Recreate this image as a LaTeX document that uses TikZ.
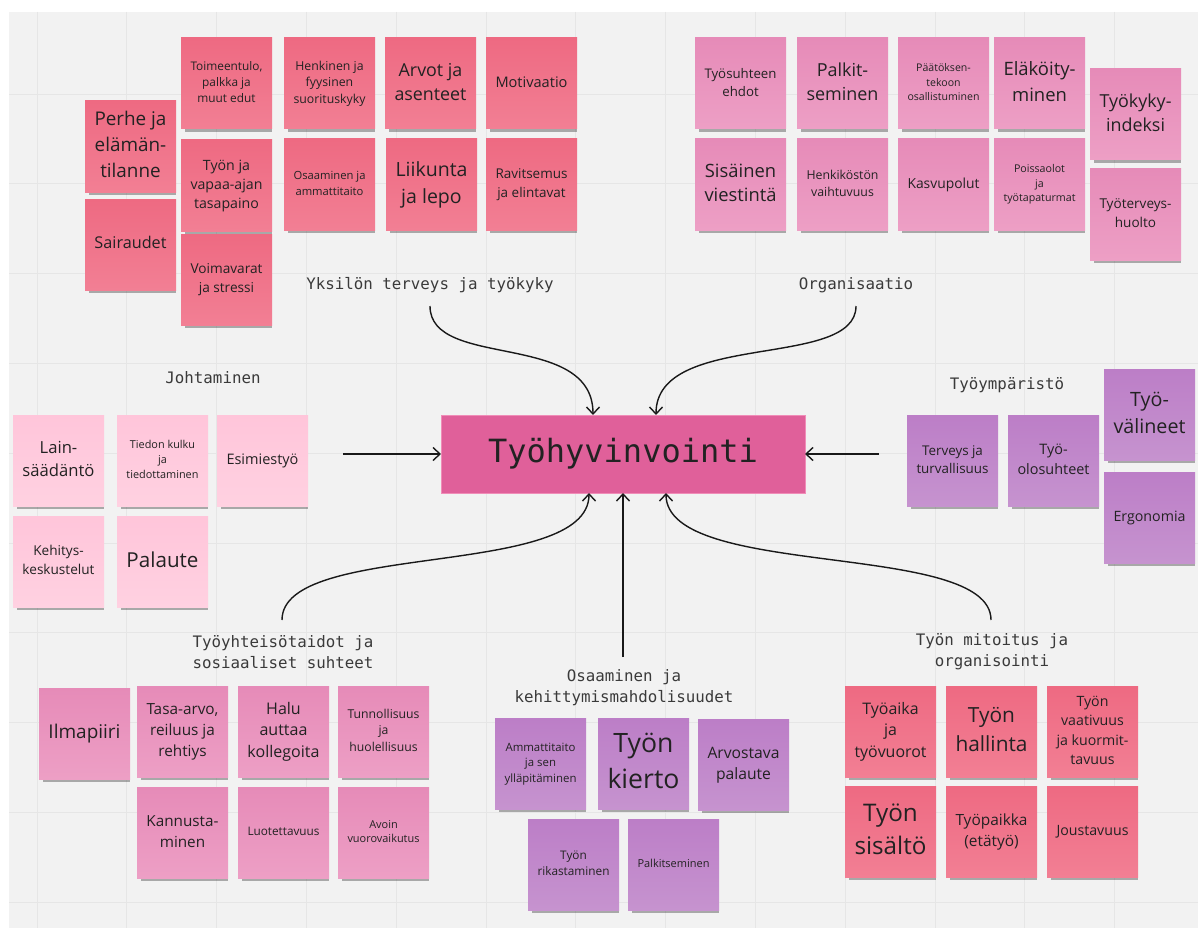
\documentclass[tikz,border=0pt]{standalone}
\usepackage{fontspec}
\setmainfont{Open Sans}
\newfontfamily\monofont{DejaVu Sans Mono}
\usepackage{graphicx}
\usetikzlibrary{arrows.meta,shadows}

\definecolor{bg}{HTML}{F2F2F2}
\definecolor{gridc}{HTML}{E6E6E6}
\definecolor{txt}{HTML}{222222}
\definecolor{lblc}{HTML}{3A3A3A}
\definecolor{redA}{HTML}{EE6A82}
\definecolor{redB}{HTML}{F27F94}
\definecolor{pinkA}{HTML}{E68BB8}
\definecolor{pinkB}{HTML}{ED9FC5}
\definecolor{lightA}{HTML}{FFC5DA}
\definecolor{lightB}{HTML}{FFD1E1}
\definecolor{purA}{HTML}{BC7EC7}
\definecolor{purB}{HTML}{C693CF}
\definecolor{hubc}{HTML}{E0609A}
\definecolor{hubb}{HTML}{F08DB8}

\newcommand{\nt}[1]{\resizebox{72pt}{!}{\fontsize{10}{13.6}\selectfont\begin{tabular}{@{}c@{}}#1\end{tabular}}}

\tikzset{
  sticky/.style={minimum width=91pt, minimum height=91pt, anchor=north west,
    inner sep=0pt, outer sep=0pt, text=txt,
    drop shadow={opacity=0.3, shadow scale=0.95, shadow xshift=2pt, shadow yshift=-6pt, fill=black}},
  redn/.style={sticky, top color=redA, bottom color=redB},
  pinkn/.style={sticky, top color=pinkA, bottom color=pinkB},
  lightn/.style={sticky, top color=lightA, bottom color=lightB},
  purn/.style={sticky, top color=purA, bottom color=purB},
  lbl/.style={font=\monofont\fontsize{15.8}{21}\selectfont, text=lblc, align=center, inner sep=0pt},
  hubstyle/.style={fill=hubc, draw=hubb, line width=1pt, minimum width=364pt, minimum height=78pt,
    inner sep=0pt, outer sep=0pt, text=txt, font=\monofont\fontsize{32}{36}\selectfont},
  conn/.style={draw=black!90, line width=1.4pt, -{Straight Barb[length=7pt,width=13pt]}},
  gridline/.style={draw=gridc, line width=0.8pt}
}

\begin{document}
\begin{tikzpicture}[x=1pt,y=-1pt]
\useasboundingbox (0,0) rectangle (1198,928);
\fill[white] (0,0) rectangle (1198,928);
\fill[bg] (9,12) rectangle (1198,928);
\foreach \i in {0,...,12} \draw[gridline] ({37+89.8*\i},12) -- ({37+89.8*\i},928);
\foreach \j in {0,...,9} \draw[gridline] (9,{94+89.8*\j}) -- (1198,{94+89.8*\j});

% Yksilön terveys ja työkyky
\node[redn] (n1) at (181,38) {\nt{Toimeentulo,\\palkka ja\\muut edut}};
\node[redn] (n2) at (284,38) {\nt{Henkinen ja\\fyysinen\\suorituskyky}};
\node[redn] (n3) at (385,38) {\nt{Arvot ja\\asenteet}};
\node[redn] (n4) at (486,38) {\nt{Motivaatio}};
\node[redn] (n5) at (85,101) {\nt{Perhe ja\\elämän-\\tilanne}};
\node[redn] (n7) at (181,140) {\nt{Työn ja\\vapaa-ajan\\tasapaino}};
\node[redn] (n9) at (284,139) {\nt{Osaaminen ja\\ammattitaito}};
\node[redn] (n10) at (386,139) {\nt{Liikunta\\ja lepo}};
\node[redn] (n11) at (486,139) {\nt{Ravitsemus\\ja elintavat}};
\node[redn] (n6) at (85,199) {\nt{Sairaudet}};
\node[redn] (n8) at (181,234) {\nt{Voimavarat\\ja stressi}};

% Organisaatio
\node[pinkn] (o1) at (695,38) {\nt{Työsuhteen\\ehdot}};
\node[pinkn] (o2) at (797,38) {\nt{Palkit-\\seminen}};
\node[pinkn] (o3) at (898,38) {\nt{Päätöksen-\\tekoon\\osallistuminen}};
\node[pinkn] (o4) at (994,38) {\nt{Eläköity-\\minen}};
\node[pinkn] (o5) at (1090,69) {\nt{Työkyky-\\indeksi}};
\node[pinkn] (o6) at (695,139) {\nt{Sisäinen\\viestintä}};
\node[pinkn] (o7) at (797,139) {\nt{Henkiköstön\\vaihtuvuus}};
\node[pinkn] (o8) at (898,139) {\nt{Kasvupolut}};
\node[pinkn] (o9) at (994,139) {\nt{Poissaolot\\ja\\työtapaturmat}};
\node[pinkn] (o10) at (1090,169) {\nt{Työterveys-\\huolto}};

% Johtaminen
\node[lightn] (j1) at (13,415) {\nt{Lain-\\säädäntö}};
\node[lightn] (j2) at (117,415) {\nt{Tiedon kulku\\ja\\tiedottaminen}};
\node[lightn] (j3) at (217,415) {\nt{Esimiestyö}};
\node[lightn] (j4) at (13,516) {\nt{Kehitys-\\keskustelut}};
\node[lightn] (j5) at (117,516) {\nt{Palaute}};

% Työympäristö
\node[purn] (e3) at (1104,369) {\nt{Työ-\\välineet}};
\node[purn] (e1) at (907,415) {\nt{Terveys ja\\turvallisuus}};
\node[purn] (e2) at (1008,415) {\nt{Työ-\\olosuhteet}};
\node[purn] (e4) at (1104,472) {\nt{Ergonomia}};

% Työyhteisötaidot
\node[pinkn] (s1) at (39,688) {\nt{Ilmapiiri}};
\node[pinkn] (s2) at (137,686) {\nt{Tasa-arvo,\\reiluus ja\\rehtiys}};
\node[pinkn] (s3) at (238,686) {\nt{Halu\\auttaa\\kollegoita}};
\node[pinkn] (s4) at (338,686) {\nt{Tunnollisuus\\ja\\huolellisuus}};
\node[pinkn] (s5) at (137,787) {\nt{Kannusta-\\minen}};
\node[pinkn] (s6) at (238,787) {\nt{Luotettavuus}};
\node[pinkn] (s7) at (338,787) {\nt{Avoin\\vuorovaikutus}};

% Osaaminen
\node[purn] (k1) at (495,718) {\nt{Ammattitaito\\ja sen\\ylläpitäminen}};
\node[purn] (k2) at (598,718) {\nt{Työn\\kierto}};
\node[purn] (k3) at (698,719) {\nt{Arvostava\\palaute}};
\node[purn] (k4) at (528,819) {\nt{Työn\\rikastaminen}};
\node[purn] (k5) at (628,819) {\nt{Palkitseminen}};

% Työn mitoitus
\node[redn] (m1) at (845,686) {\nt{Työaika\\ja\\työvuorot}};
\node[redn] (m2) at (946,686) {\nt{Työn\\hallinta}};
\node[redn] (m3) at (1047,686) {\nt{Työn\\vaativuus\\ja kuormit-\\tavuus}};
\node[redn] (m4) at (845,786) {\nt{Työn\\sisältö}};
\node[redn] (m5) at (946,786) {\nt{Työpaikka\\(etätyö)}};
\node[redn] (m6) at (1047,786) {\nt{Joustavuus}};

% Labels
\node[lbl] (L1) at (430,285) {Yksilön terveys ja työkyky};
\node[lbl] (L2) at (856,285) {Organisaatio};
\node[lbl] (L3) at (213,378) {Johtaminen};
\node[lbl] (L4) at (1007,385) {Työympäristö};
\node[lbl] (L5) at (283,652) {Työyhteisötaidot ja\\sosiaaliset suhteet};
\node[lbl] (L6) at (624,688) {Osaaminen ja\\kehittymismahdolisuudet};
\node[lbl] (L7) at (992,652) {Työn mitoitus ja\\organisointi};

% Hub
\node[hubstyle] (hub) at (623,454) {Työhyvinvointi};

% Connectors
\coordinate (c1) at (430,306);
\coordinate (c2) at (856,306);
\coordinate (c3) at (343,454);
\coordinate (c4) at (879,454);
\coordinate (c5) at (282,620);
\coordinate (c6) at (623,657);
\coordinate (c7) at (991,620);
\draw[conn] (c1) .. controls (430,370) and (593,330) .. ([xshift=-30pt]hub.north);
\draw[conn] (c2) .. controls (856,370) and (656,330) .. ([xshift=33pt]hub.north);
\draw[conn] (c3) -- (hub.west);
\draw[conn] (c4) -- (hub.east);
\draw[conn] (c5) .. controls (282,540) and (589,580) .. ([xshift=-34pt]hub.south);
\draw[conn] (c6) -- (hub.south);
\draw[conn] (c7) .. controls (991,540) and (666,580) .. ([xshift=43pt]hub.south);
\end{tikzpicture}
\end{document}
